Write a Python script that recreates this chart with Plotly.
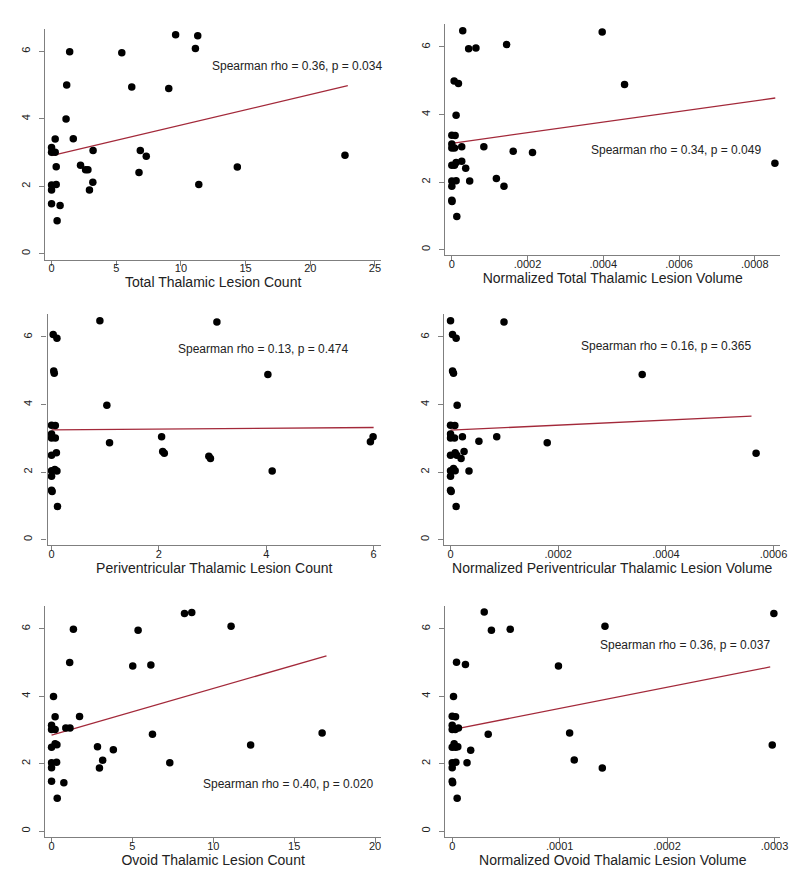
import plotly.graph_objects as go

# ---------------- data ----------------
# Panel 1: Total Thalamic Lesion Count
p1_x = [9.59, 11.30, 11.12, 1.40, 5.43, 1.17, 6.20, 9.06, 1.12, 0.28, 1.68, 0.0, 0.0, 0.28, 3.21,
        6.86, 7.32, 22.68, 0.36, 2.24, 2.63, 2.81, 14.36, 6.76, 0.0, 0.36, 3.19, 11.38, 0.0, 2.93,
        0.0, 0.66, 0.43]
p1_y = [6.49, 6.46, 6.08, 5.99, 5.96, 5.00, 4.94, 4.90, 3.99, 3.40, 3.41, 3.15, 3.01, 3.01, 3.06,
        3.06, 2.89, 2.92, 2.58, 2.62, 2.49, 2.49, 2.57, 2.41, 2.04, 2.05, 2.12, 2.05, 1.89, 1.89,
        1.48, 1.43, 0.98]
p1_fit_x = [0.0, 22.9]
p1_fit_y = [2.91, 4.98]
p1_text = "Spearman rho = 0.36, p = 0.034"

# Panel 2: Normalized Total Thalamic Lesion Volume
p2_x = [0.0000288, 0.000397, 0.0001447, 0.0000444, 0.0000636, 0.0000061, 0.0000174, 0.000456,
        0.0000113, 0.0, 0.0000087, 0.0, 0.0, 0.000007, 0.0000261, 0.0000845, 0.000162, 0.000213,
        0.000853, 0.0, 0.000007, 0.0000113, 0.0000261, 0.0000366, 0.0, 0.0000113, 0.0000471,
        0.0001176, 0.0, 0.0001377, 0.0, 0.0000005, 0.0000131]
p2_y = [6.48, 6.44, 6.07, 5.95, 5.97, 4.99, 4.92, 4.89, 3.98, 3.39, 3.38, 3.13, 3.01, 3.01, 3.05,
        3.05, 2.91, 2.88, 2.56, 2.50, 2.50, 2.58, 2.62, 2.41, 2.03, 2.04, 2.03, 2.11, 1.88, 1.88,
        1.46, 1.43, 0.98]
p2_fit_x = [0.0, 0.000854]
p2_fit_y = [3.15, 4.49]
p2_text = "Spearman rho = 0.34, p = 0.049"

# Panel 3: Periventricular Thalamic Lesion Count
p3_x = [0.90, 3.08, 0.03, 0.10, 0.04, 0.05, 4.03, 1.03, 0.0, 0.07, 0.0, 0.0, 0.07, 2.05, 1.08,
        5.94, 5.99, 0.09, 0.0, 2.07, 2.10, 2.93, 2.96, 0.0, 0.06, 0.10, 4.11, 0.0, 0.0, 0.01, 0.11]
p3_y = [6.48, 6.44, 6.07, 5.96, 4.99, 4.93, 4.89, 3.98, 3.39, 3.38, 3.13, 3.01, 3.01, 3.05, 2.87,
        2.90, 3.05, 2.57, 2.50, 2.61, 2.56, 2.47, 2.40, 2.04, 2.08, 2.03, 2.03, 1.88, 1.46, 1.43, 0.98]
p3_fit_x = [0.0, 6.0]
p3_fit_y = [3.25, 3.32]
p3_text = "Spearman rho = 0.13, p = 0.474"

# Panel 4: Normalized Periventricular Thalamic Lesion Volume
p4_x = [0.0, 0.0000993, 0.0000037, 0.0000104, 0.0000037, 0.0000055, 0.000356, 0.0000123, 0.0,
        0.000008, 0.0, 0.0, 0.0000074, 0.0000221, 0.0000527, 0.0000858, 0.0001796, 0.0005675, 0.0,
        0.0000086, 0.0000116, 0.0000251, 0.0000196, 0.0, 0.0000055, 0.0000086, 0.0000343, 0.0,
        0.0, 0.0000012, 0.0000104]
p4_y = [6.48, 6.44, 6.07, 5.96, 4.99, 4.93, 4.89, 3.98, 3.39, 3.38, 3.13, 3.01, 3.01, 3.05, 2.91,
        3.05, 2.87, 2.56, 2.50, 2.57, 2.50, 2.61, 2.40, 2.04, 2.11, 2.04, 2.03, 1.88, 1.46, 1.43, 0.98]
p4_fit_x = [0.0, 0.000559]
p4_fit_y = [3.24, 3.66]
p4_text = "Spearman rho = 0.16, p = 0.365"

# Panel 5: Ovoid Thalamic Lesion Count
p5_x = [8.22, 8.67, 11.10, 1.35, 5.35, 1.12, 5.02, 6.14, 0.12, 0.22, 1.73, 0.0, 0.0, 0.22, 0.88,
        1.14, 6.24, 16.73, 0.0, 0.22, 0.33, 2.84, 3.82, 12.31, 0.0, 0.31, 3.16, 7.31, 0.0, 2.96,
        0.0, 0.76, 0.35]
p5_y = [6.46, 6.49, 6.08, 5.99, 5.96, 5.00, 4.90, 4.93, 3.99, 3.39, 3.40, 3.14, 3.01, 3.01, 3.06,
        3.06, 2.87, 2.91, 2.49, 2.59, 2.56, 2.50, 2.41, 2.55, 2.03, 2.04, 2.10, 2.03, 1.88, 1.87,
        1.48, 1.43, 0.97]
p5_fit_x = [0.0, 17.0]
p5_fit_y = [2.85, 5.20]
p5_text = "Spearman rho = 0.40, p = 0.020"

# Panel 6: Normalized Ovoid Thalamic Lesion Volume
p6_x = [0.0000298, 0.0002994, 0.0001422, 0.0000365, 0.000054, 0.000004, 0.0000123, 0.0000989,
        0.0000012, 0.0, 0.0000031, 0.0, 0.0, 0.0000028, 0.0000058, 0.0000335, 0.0001093, 0.0002979,
        0.0, 0.0000018, 0.0000031, 0.0000052, 0.0000172, 0.0, 0.0000034, 0.0000138, 0.0001136, 0.0,
        0.0001397, 0.0, 0.0000004, 0.0000046]
p6_y = [6.50, 6.46, 6.08, 5.96, 5.99, 5.01, 4.94, 4.90, 3.99, 3.41, 3.39, 3.14, 3.01, 3.01, 3.06,
        2.87, 2.91, 2.55, 2.49, 2.59, 2.49, 2.50, 2.40, 2.03, 2.04, 2.03, 2.11, 1.88, 1.87, 1.48,
        1.43, 0.97]
p6_fit_x = [0.0, 0.000296]
p6_fit_y = [3.01, 4.87]
p6_text = "Spearman rho = 0.36, p = 0.037"

x_titles = ["Total Thalamic Lesion Count", "Normalized Total Thalamic Lesion Volume",
            "Periventricular Thalamic Lesion Count", "Normalized Periventricular Thalamic Lesion Volume",
            "Ovoid Thalamic Lesion Count", "Normalized Ovoid Thalamic Lesion Volume"]

xtick_vals = [[0, 5, 10, 15, 20, 25],
              [0, 0.0002, 0.0004, 0.0006, 0.0008],
              [0, 2, 4, 6],
              [0, 0.0002, 0.0004, 0.0006],
              [0, 5, 10, 15, 20],
              [0, 0.0001, 0.0002, 0.0003]]
xtick_text = [["0", "5", "10", "15", "20", "25"],
              ["0", ".0002", ".0004", ".0006", ".0008"],
              ["0", "2", "4", "6"],
              ["0", ".0002", ".0004", ".0006"],
              ["0", "5", "10", "15", "20"],
              ["0", ".0001", ".0002", ".0003"]]
ytick_vals = [0, 2, 4, 6]
ytick_text = ["0", "2", "4", "6"]

panels = [
    (p1_x, p1_y, p1_fit_x, p1_fit_y, p1_text),
    (p2_x, p2_y, p2_fit_x, p2_fit_y, p2_text),
    (p3_x, p3_y, p3_fit_x, p3_fit_y, p3_text),
    (p4_x, p4_y, p4_fit_x, p4_fit_y, p4_text),
    (p5_x, p5_y, p5_fit_x, p5_fit_y, p5_text),
    (p6_x, p6_y, p6_fit_x, p6_fit_y, p6_text),
]

# ---------------- layout geometry (pixels) ----------------
W, H = 800, 883
# (left, right, top, bottom) of plot region in px
boxes = [(37.7, 376.7, 20.7, 251.7), (441.7, 780.0, 16.0, 247.3),
         (40.0, 376.7, 306.0, 537.3), (440.7, 780.0, 306.0, 537.3),
         (37.7, 376.7, 598.0, 829.3), (441.7, 780.0, 598.0, 829.3)]
x_ranges = [[-0.482, 25.46], [-0.0000173, 0.000867], [-0.074, 6.136],
            [-0.0000116, 0.0006123], [-0.386, 20.367], [-0.00000645, 0.0003053]]
y_ranges = [[-0.178, 6.67], [-0.166, 6.68], [-0.166, 6.68],
            [-0.166, 6.68], [-0.187, 6.68], [-0.187, 6.68]]
# annotation centre positions (data coords)
ann_pos = [(19.0, 5.55), (0.000591, 2.94), (3.93, 5.63), (0.000401, 5.74), (14.59, 1.40), (0.0002165, 5.51)]

FONT = "Liberation Sans, Arial, sans-serif"
AXIS_COL = "#7f7f7f"
LINE_COL = "#a3293a"

fig = go.Figure()
layout = dict(
    width=W, height=H, margin=dict(l=0, r=0, t=0, b=0),
    paper_bgcolor="white", plot_bgcolor="white", showlegend=False,
    font=dict(family=FONT, color="#222222"),
)
annotations = []
for i, (px, py, fx, fy, txt) in enumerate(panels):
    n = "" if i == 0 else str(i + 1)
    xa, ya = "x" + n, "y" + n
    fig.add_trace(go.Scatter(x=fx, y=fy, mode="lines", xaxis=xa, yaxis=ya,
                             line=dict(color=LINE_COL, width=1.3)))
    fig.add_trace(go.Scatter(x=px, y=py, mode="markers", xaxis=xa, yaxis=ya,
                             marker=dict(color="black", size=7.5, line=dict(width=0))))
    l, r, t, b = boxes[i]
    layout["xaxis" + n] = dict(
        domain=[l / W, r / W], range=x_ranges[i], anchor=ya,
        tickmode="array", tickvals=xtick_vals[i], ticktext=xtick_text[i],
        ticks="outside", ticklen=5, tickwidth=1, tickcolor=AXIS_COL, ticklabelstandoff=-7,
        showline=True, linecolor=AXIS_COL, linewidth=1.3, showgrid=False, zeroline=False,
        tickfont=dict(size=11, color="#222222", family=FONT),
        title=dict(text=x_titles[i], font=dict(size=14, color="#222222", family=FONT), standoff=2),
    )
    layout["yaxis" + n] = dict(
        domain=[1 - b / H, 1 - t / H], range=y_ranges[i], anchor=xa,
        tickmode="array", tickvals=ytick_vals, ticktext=ytick_text,
        ticks="outside", ticklen=5, tickwidth=1, tickcolor=AXIS_COL, tickangle=-90,
        ticklabelstandoff=5,
        showline=True, linecolor=AXIS_COL, linewidth=1.3, showgrid=False, zeroline=False,
        tickfont=dict(size=11, color="#222222", family=FONT),
    )
    ax, ay = ann_pos[i]
    annotations.append(dict(x=ax, y=ay, xref=xa, yref=ya, text=txt, showarrow=False,
                            xanchor="center", yanchor="middle",
                            font=dict(size=12, color="#222222", family=FONT)))
layout["annotations"] = annotations
fig.update_layout(**layout)
fig.write_html("out.html")
